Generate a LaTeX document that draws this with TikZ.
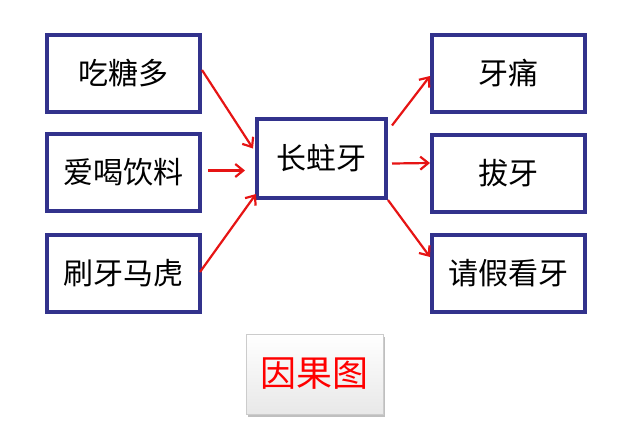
\documentclass[tikz,border=0pt]{standalone}
\usepackage{fontspec}
\newfontfamily\cjk{Noto Sans CJK SC}
\usetikzlibrary{calc,arrows.meta,shadows}
\definecolor{boxblue}{RGB}{50,50,140}
\definecolor{arrred}{RGB}{230,20,20}

\begin{document}
\begin{tikzpicture}[x=1pt, y=-1pt,
	cause/.style={draw=boxblue, line width=4pt, fill=white, minimum width=153pt, minimum height=77pt, inner sep=0pt, font=\cjk\fontsize{30}{32}\selectfont},
	link/.style={draw=arrred, line width=2.2pt, -{Straight Barb[length=8pt,width=13pt]}}]
	\useasboundingbox (0,0) rectangle (640,434);
	% causes
	\node[cause] (sugar) at (123.5,73) {吃糖多};
	\node[cause] (drink) at (123.5,172.5) {爱喝饮料};
	\node[cause] (brush) at (123.5,273) {刷牙马虎};
	% problem
	\node[cause, minimum width=129pt, minimum height=79pt] (decay) at (321.5,158.5) {长蛀牙};
	% effects
	\node[cause] (pain) at (508.5,73) {牙痛};
	\node[cause] (pull) at (508.5,173) {拔牙};
	\node[cause] (leave) at (508.5,273) {请假看牙};
	% arrows
	\draw[link] ($(sugar.east)+(0,-3)$) -- ($(decay.west)+(-2,-10)$);
	\draw[link] ($(drink.east)+(6,-2)$) -- ($(decay.west)+(-10,12)$);
	\draw[link] ($(brush.east)+(-2,-1)$) -- ($(decay.south west)+(1,-6)$);
	\draw[link] ($(decay.east)+(4,-33)$) -- ($(pain.west)+(0,3)$);
	\draw[link] ($(decay.east)+(4,5)$) -- ($(pull.west)+(0,-10)$);
	\draw[link] (decay.south east) -- ($(leave.west)+(0,-16)$);
	% title
	\node[draw=gray!40, line width=0.6pt, top color=white, bottom color=gray!18, drop shadow={opacity=0.5, shadow xshift=2pt, shadow yshift=-3pt},
		minimum width=137pt, minimum height=80pt, text=red, font=\cjk\fontsize{36}{38}\selectfont] (title) at (314.5,374) {因果图};
\end{tikzpicture}
\end{document}
